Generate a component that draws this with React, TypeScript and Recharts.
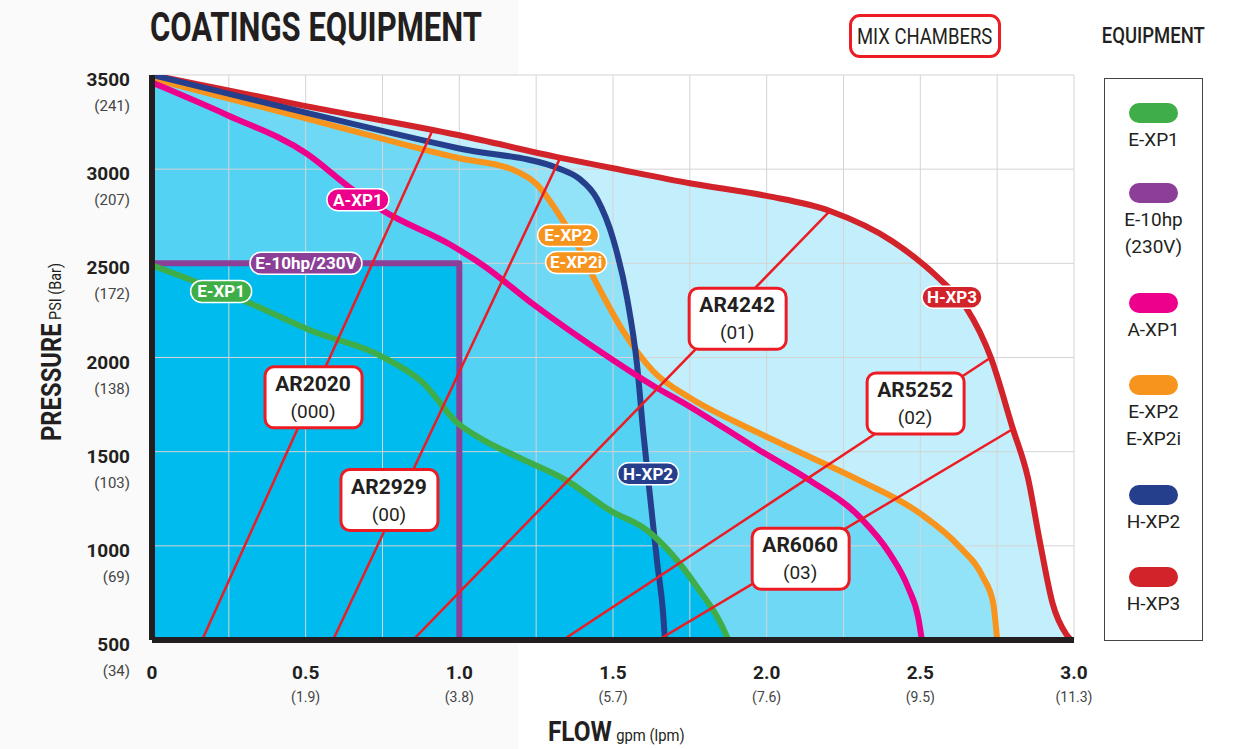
import React from 'react';
import { ComposedChart, Area, Line, XAxis, YAxis, ReferenceLine, ReferenceDot } from 'recharts';

document.body.style.margin = '0';

const COND = "'Liberation Sans Narrow', 'Arial Narrow', Roboto, sans-serif";
const INK = '#231F20';

// pump curves: [flow gpm, pressure psi]
const E_XP1 = [[0, 2490], [0.319, 2288], [0.514, 2145], [0.752, 2002], [0.882, 1865], [0.993, 1653], [1.077, 1563], [1.188, 1473], [1.35, 1346], [1.49, 1188], [1.611, 1082], [1.774, 780], [1.871, 516], [1.875, 500]];
const E_10HP = [[0, 2500], [1.0, 2500], [1.0, 500]];
const A_XP1 = [[0, 3460], [0.244, 3288], [0.504, 3082], [0.644, 2902], [0.752, 2780], [0.97, 2600], [1.077, 2490], [1.24, 2283], [1.49, 1997], [1.643, 1838], [1.718, 1770], [1.979, 1505], [2.141, 1347], [2.304, 1151], [2.4, 960], [2.46, 780], [2.493, 620], [2.505, 500]];
const E_XP2 = [[0, 3480], [0.5, 3270], [1.0, 3058], [1.175, 2997], [1.253, 2918], [1.318, 2775], [1.383, 2600], [1.448, 2389], [1.533, 2140], [1.63, 1928], [1.751, 1785], [1.891, 1664], [1.979, 1595], [2.118, 1489], [2.304, 1346], [2.499, 1172], [2.629, 992], [2.704, 833], [2.737, 696], [2.75, 500]];
const H_XP2 = [[0, 3500], [0.5, 3300], [1.0, 3110], [1.33, 3000], [1.39, 2950], [1.448, 2843], [1.5, 2632], [1.546, 2314], [1.578, 1965], [1.598, 1611], [1.621, 1256], [1.644, 907], [1.663, 643], [1.669, 500]];
const H_XP3 = [[0, 3500], [0.5, 3335], [1.0, 3180], [1.33, 3060], [1.5, 3005], [1.75, 2925], [2.0, 2858], [2.206, 2778], [2.41, 2616], [2.57, 2405], [2.65, 2262], [2.73, 1997], [2.8, 1627], [2.85, 1362], [2.89, 1013], [2.93, 696], [2.975, 530], [2.99, 500]];

// mix chamber lines
const mixNames = ['AR2020', 'AR2929', 'AR4242', 'AR5252', 'AR6060'];
const mixCodes = ['(000)', '(00)', '(01)', '(02)', '(03)'];
const mixLines = [
  [[0.163, 500], [0.911, 3200]],
  [[0.589, 500], [1.328, 3060]],
  [[0.849, 500], [2.206, 2778]],
  [[1.337, 500], [2.727, 1997]],
  [[1.647, 500], [2.808, 1627]],
];
const mixLabelAt = [[0.524, 1791], [0.771, 1246], [1.904, 2209], [2.483, 1759], [2.109, 934]];

// axes
const flowTicks = [0, 0.5, 1.0, 1.5, 2.0, 2.5, 3.0];
const flowLabels = ['0', '0.5', '1.0', '1.5', '2.0', '2.5', '3.0'];
const lpmLabels = ['', '(1.9)', '(3.8)', '(5.7)', '(7.6)', '(9.5)', '(11.3)'];
const psiTicks = [500, 1000, 1500, 2000, 2500, 3000, 3500];
const barLabels = ['(34)', '(69)', '(103)', '(138)', '(172)', '(207)', '(241)'];
const gridFlow = [0.25, 0.5, 0.75, 1.0, 1.25, 1.5, 1.75, 2.0, 2.25, 2.5, 2.75, 3.0];
const gridPsi = [1000, 1500, 2000, 2500, 3000, 3500];

const toPts = (arr: number[][]) => arr.map(([x, y]) => ({ x, y }));

const series = [
  { key: 'H-XP3', data: H_XP3, color: '#D2232A' },
  { key: 'E-XP2', data: E_XP2, color: '#F7941D' },
  { key: 'H-XP2', data: H_XP2, color: '#263F8C' },
  { key: 'A-XP1', data: A_XP1, color: '#EC008C' },
  { key: 'E-10hp', data: E_10HP, color: '#8C3F97' },
  { key: 'E-XP1', data: E_XP1, color: '#3FAE49' },
];

const tags = [
  { text: 'A-XP1', color: '#EC008C', at: [0.67, 2838], w: 62 },
  { text: 'E-10hp/230V', color: '#8C3F97', at: [0.501, 2500], w: 112 },
  { text: 'E-XP1', color: '#3FAE49', at: [0.225, 2351], w: 61 },
  { text: 'E-XP2', color: '#F7941D', at: [1.354, 2648], w: 61 },
  { text: 'E-XP2i', color: '#F7941D', at: [1.38, 2505], w: 61 },
  { text: 'H-XP2', color: '#263F8C', at: [1.614, 1383], w: 61 },
  { text: 'H-XP3', color: '#D2232A', at: [2.603, 2320], w: 60 },
];

const legendItems = [
  { color: '#3FAE49', lines: ['E-XP1'] },
  { color: '#8C3F97', lines: ['E-10hp', '(230V)'] },
  { color: '#EC008C', lines: ['A-XP1'] },
  { color: '#F7941D', lines: ['E-XP2', 'E-XP2i'] },
  { color: '#263F8C', lines: ['H-XP2'] },
  { color: '#D2232A', lines: ['H-XP3'] },
];
const legendTops = [103, 183, 293, 375, 485, 567];

const CYAN = '#00BCEE';

function FlowTick(props: any) {
  const { x, y, payload } = props;
  const i = flowTicks.indexOf(payload.value);
  return (
    <g>
      <text x={x} y={y + 31} textAnchor="middle" fontFamily={COND} fontWeight={700} fontSize={19} fill={INK}>{flowLabels[i]}</text>
      <text x={x} y={y + 54} textAnchor="middle" fontFamily={COND} fontSize={14} fill="#444">{lpmLabels[i]}</text>
    </g>
  );
}

function PsiTick(props: any) {
  const { y, payload } = props;
  const i = psiTicks.indexOf(payload.value);
  return (
    <g>
      <text x={130} y={y + 11} textAnchor="end" fontFamily={COND} fontWeight={700} fontSize={19} fill={INK}>{payload.value}</text>
      <text x={130} y={y + 36} textAnchor="end" fontFamily={COND} fontSize={15} fill="#444">{barLabels[i]}</text>
    </g>
  );
}

function Tag({ cx, cy, text, color, w }: any) {
  return (
    <g>
      <rect x={cx - w / 2} y={cy - 11} width={w} height={22} rx={11} fill={color} stroke="#fff" strokeWidth={1.5} />
      <text x={cx} y={cy + 6} textAnchor="middle" fontFamily={COND} fontWeight={700} fontSize={17} fill="#fff">{text}</text>
    </g>
  );
}

function MixBox({ cx, cy, name, code }: any) {
  return (
    <g>
      <rect x={cx - 48} y={cy - 30} width={97} height={61} rx={9} fill="#fff" stroke="#ED1C24" strokeWidth={3} />
      <text x={cx} y={cy - 6} textAnchor="middle" fontFamily={COND} fontWeight={700} fontSize={21} fill={INK}>{name}</text>
      <text x={cx} y={cy + 21} textAnchor="middle" fontFamily={COND} fontSize={19} fill={INK}>{code}</text>
    </g>
  );
}

export default function App() {
  return (
    <div style={{ position: 'relative', width: 1233, height: 749, background: '#fff', overflow: 'hidden' }}>
      {/* light grey panel behind the left half */}
      <div style={{ position: 'absolute', left: 0, top: 0, width: 518, height: 749, background: '#FAFAFA' }} />
      <div style={{ position: 'absolute', left: 152, top: 75, width: 922, height: 566, background: '#fff' }} />

      <div style={{ position: 'absolute', left: 150, top: 4, fontFamily: COND, fontWeight: 700, fontSize: 40, color: INK, whiteSpace: 'nowrap', transform: 'scaleX(0.775)', transformOrigin: 'left center' }}>
        COATINGS EQUIPMENT
      </div>
      <div style={{ position: 'absolute', left: 849, top: 14, width: 146, height: 38, border: '3px solid #ED1C24', borderRadius: 11, display: 'flex', alignItems: 'center', justifyContent: 'center' }}>
        <span style={{ fontFamily: COND, fontSize: 22, color: INK, whiteSpace: 'nowrap', transform: 'scaleX(0.84)', display: 'inline-block' }}>MIX CHAMBERS</span>
      </div>
      <div style={{ position: 'absolute', left: 1083, top: 23, width: 140, textAlign: 'center' }}>
        <span style={{ fontFamily: COND, fontSize: 22, color: INK, fontWeight: 500, whiteSpace: 'nowrap', transform: 'scaleX(0.84)', display: 'inline-block' }}>EQUIPMENT</span>
      </div>

      <ComposedChart
        width={1233}
        height={749}
        margin={{ top: 75, right: 159, bottom: 49, left: 72 }}
        style={{ position: 'absolute', left: 0, top: 0 }}
      >
        <XAxis
          type="number"
          dataKey="x"
          domain={[0, 3]}
          ticks={flowTicks}
          allowDataOverflow
          height={60}
          tickLine={false}
          axisLine={{ stroke: INK, strokeWidth: 6 }}
          tick={<FlowTick />}
          interval={0}
        />
        <YAxis
          type="number"
          dataKey="y"
          domain={[500, 3500]}
          ticks={psiTicks}
          allowDataOverflow
          width={80}
          tickLine={false}
          axisLine={{ stroke: INK, strokeWidth: 6 }}
          tick={<PsiTick />}
          interval={0}
        />

        {series.map((s) => (
          <Area
            key={'a-' + s.key}
            data={toPts(s.data)}
            dataKey="y"
            type={s.key === 'E-10hp' ? 'linear' : 'monotone'}
            stroke="none"
            fill={CYAN}
            fillOpacity={s.key === 'E-10hp' || s.key === 'E-XP1' ? 1 : 0.24}
            baseValue="dataMin"
            isAnimationActive={false}
          />
        ))}

        {gridFlow.map((v) => (
          <ReferenceLine key={'gx' + v} x={v} stroke="#D4D4D4" strokeWidth={1} zIndex={150} />
        ))}
        {gridPsi.map((v) => (
          <ReferenceLine key={'gy' + v} y={v} stroke="#D4D4D4" strokeWidth={1} zIndex={150} />
        ))}

        {series.map((s) => (
          <Line
            key={'l-' + s.key}
            data={toPts(s.data)}
            dataKey="y"
            type={s.key === 'E-10hp' ? 'linear' : 'monotone'}
            stroke={s.color}
            strokeWidth={6}
            strokeLinejoin="round"
            dot={false}
            activeDot={false}
            isAnimationActive={false}
          />
        ))}

        {mixLines.map((m, i) => (
          <Line
            key={'m-' + i}
            data={toPts(m)}
            dataKey="y"
            type="linear"
            stroke="#ED1C24"
            strokeWidth={2.5}
            dot={false}
            activeDot={false}
            isAnimationActive={false}
          />
        ))}

        {mixNames.map((n, i) => (
          <ReferenceDot
            key={'mb-' + n}
            x={mixLabelAt[i][0]}
            y={mixLabelAt[i][1]}
            r={1}
            zIndex={2500}
            shape={(p: any) => <MixBox cx={p.cx} cy={p.cy} name={n} code={mixCodes[i]} />}
          />
        ))}
        {tags.map((t) => (
          <ReferenceDot
            key={'t-' + t.text}
            x={t.at[0]}
            y={t.at[1]}
            r={1}
            zIndex={2500}
            shape={(p: any) => <Tag cx={p.cx} cy={p.cy} text={t.text} color={t.color} w={t.w} />}
          />
        ))}
      </ComposedChart>

      {/* axis titles */}
      <div style={{ position: 'absolute', left: 52 - 120, top: 352 - 16, width: 240, height: 32, transform: 'rotate(-90deg) scaleX(0.85)', textAlign: 'center', whiteSpace: 'nowrap', fontFamily: COND, color: INK, lineHeight: '32px' }}>
        <span style={{ fontWeight: 700, fontSize: 28 }}>PRESSURE</span>
        <span style={{ fontSize: 17, marginLeft: 4 }}>PSI (Bar)</span>
      </div>
      <div style={{ position: 'absolute', left: 548, top: 715, whiteSpace: 'nowrap', fontFamily: COND, color: INK, transform: 'scaleX(0.87)', transformOrigin: 'left center' }}>
        <span style={{ fontWeight: 700, fontSize: 28 }}>FLOW</span>
        <span style={{ fontSize: 17, marginLeft: 5 }}>gpm (lpm)</span>
      </div>

      {/* equipment legend */}
      <div style={{ position: 'absolute', left: 1104, top: 78, width: 97, height: 561, border: '1px solid #444' }} />
      {legendItems.map((it, i) => (
        <div key={it.lines[0]} style={{ position: 'absolute', left: 1104, top: legendTops[i], width: 99, textAlign: 'center', fontFamily: COND, fontSize: 19, color: INK, lineHeight: '27px' }}>
          <div style={{ width: 49, height: 20, borderRadius: 10, background: it.color, margin: '0 auto 3px' }} />
          {it.lines.map((l) => (
            <div key={l}>{l}</div>
          ))}
        </div>
      ))}
    </div>
  );
}
